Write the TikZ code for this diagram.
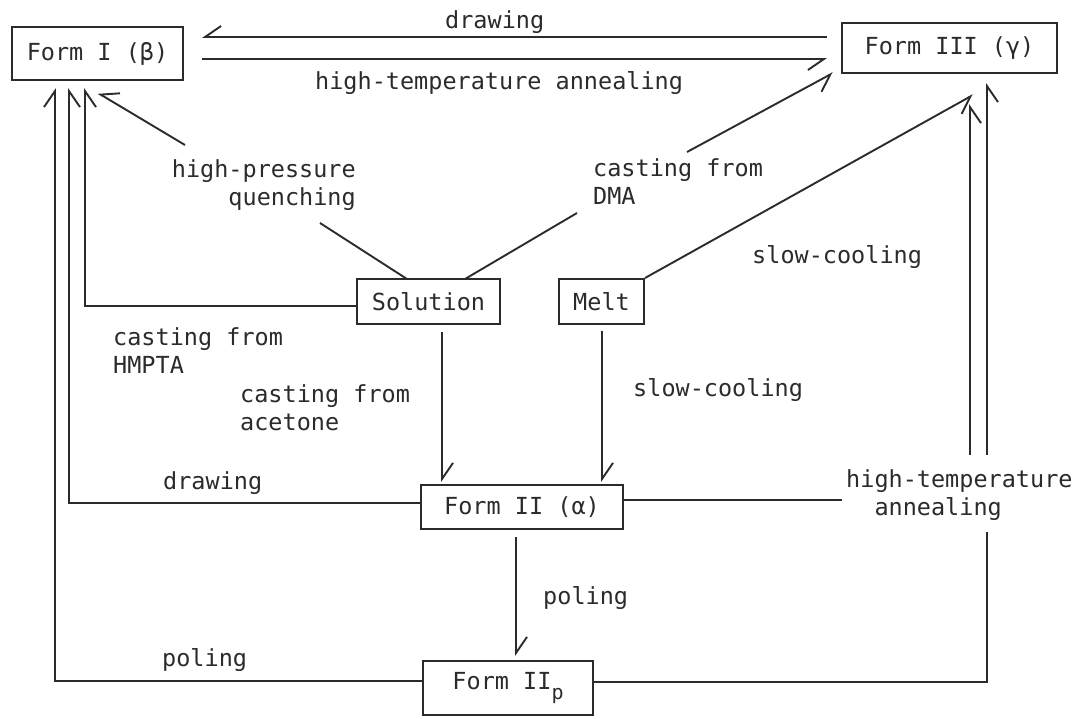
\documentclass[tikz,border=0pt]{standalone}
\usepackage{fontspec}
\setmainfont{DejaVu Sans Mono}
\usetikzlibrary{arrows.meta}
\definecolor{ink}{HTML}{2B2B2B}
\begin{document}
\begin{tikzpicture}[x=1pt,y=-1pt,
  every node/.style={font=\fontsize{23.5}{28}\selectfont, text=ink},
  box/.style={draw=ink, line width=2pt, inner sep=0pt},
  lbl/.style={inner sep=0pt, align=left},
  conn/.style={draw=ink, line width=1.9pt},
  hr/.style={conn, -{Straight Barb[harpoon,swap,length=16pt,width=22pt]}},
  hl/.style={conn, -{Straight Barb[harpoon,length=16pt,width=22pt]}}]
\useasboundingbox (0,0) rectangle (1082,718);

% phases and sources
\node[box, minimum width=171pt, minimum height=53pt] (FI)   at (97.5,53.5)  {Form I (β)};
\node[box, minimum width=215pt, minimum height=50pt] (FIII) at (949.5,48)   {Form III (γ)};
\node[box, minimum width=143pt, minimum height=45pt] (Sol)  at (428.5,301.5){Solution};
\node[box, minimum width=85pt,  minimum height=45pt] (Melt) at (601.5,301.5){Melt};
\node[box, minimum width=202pt, minimum height=44pt] (FII)  at (522,507)    {Form II (α)};
\node[box, minimum width=170pt, minimum height=54pt] (FIIp) at (508,688)
  {Form II\raisebox{-0.4em}{\fontsize{20}{20}\selectfont p}};

% process labels
\node[lbl, anchor=west] (Ldraw1) at (445,22)  {drawing};
\node[lbl, anchor=west] (Lhta1)  at (315,83)  {high-temperature annealing};
\node[lbl, anchor=east, align=right] (Lhpq) at (356,185) {high-pressure\\quenching};
\node[lbl, anchor=west] (Ldma)   at (593,182) {casting from\\DMA};
\node[lbl, anchor=west] (Lslow1) at (752,257) {slow-cooling};
\node[lbl, anchor=west] (Lhmpta) at (113,351) {casting from\\HMPTA};
\node[lbl, anchor=west] (Lacet)  at (240,408) {casting from\\acetone};
\node[lbl, anchor=west] (Lslow2) at (633,390) {slow-cooling};
\node[lbl, anchor=west] (Ldraw2) at (163,483) {drawing};
\node[lbl, anchor=west] (Lhta2)  at (846,495) {high-temperature\\\phantom{hi}annealing};
\node[lbl, anchor=west] (Lpol1)  at (543,598) {poling};
\node[lbl, anchor=west] (Lpol2)  at (162,660) {poling};

% connector end points
\coordinate (a1s) at (827,37);  \coordinate (a1t) at (202,37);
\coordinate (a2s) at (202,59);  \coordinate (a2t) at (827,59);
\coordinate (a3s) at (407,279); \coordinate (a3m) at (320,223);
\coordinate (a3n) at (185,145); \coordinate (a3t) at (98,93);
\coordinate (a4s) at (465,279); \coordinate (a4m) at (577,213);
\coordinate (a4n) at (687,152); \coordinate (a4t) at (833,73);
\coordinate (a5t) at (973,95);
\coordinate (a6t) at (85,88);
\coordinate (a7t) at (69,88);
\coordinate (a8t) at (55,88);
\coordinate (a9s) at (442,332);  \coordinate (a9t) at (442,482);
\coordinate (a10s) at (602,331); \coordinate (a10t) at (602,482);
\coordinate (a11s) at (516,537); \coordinate (a11t) at (516,656);
\coordinate (a12m) at (842,500); \coordinate (a12n) at (970,455); \coordinate (a12t) at (970,104);
\coordinate (a13m) at (987,532); \coordinate (a13n) at (987,455); \coordinate (a13t) at (987,83);

% Form I <-> Form III
\draw[hr] (a1s) -- (a1t);
\draw[hr] (a2s) -- (a2t);
% from solution and melt
\draw[conn] (a3s) -- (a3m);
\draw[hr] (a3n) -- (a3t);
\draw[conn] (a4s) -- (a4m);
\draw[hr] (a4n) -- (a4t);
\draw[hr] (Melt.north east) -- (a5t);
\draw[hr] ([yshift=-4.5pt]Sol.west) -| (a6t);
\draw[hl] (a9s) -- (a9t);
\draw[hl] (a10s) -- (a10t);
% from Form II
\draw[hr] ([yshift=4pt]FII.west) -| (a7t);
\draw[hl] (a11s) -- (a11t);
\draw[conn] ([yshift=7pt]FII.east) -- (a12m);
\draw[hr] (a12n) -- (a12t);
% from Form IIp
\draw[hl] ([yshift=7pt]FIIp.west) -| (a8t);
\draw[conn] ([yshift=6pt]FIIp.east) -| (a13m);
\draw[hr] (a13n) -- (a13t);
\end{tikzpicture}
\end{document}
